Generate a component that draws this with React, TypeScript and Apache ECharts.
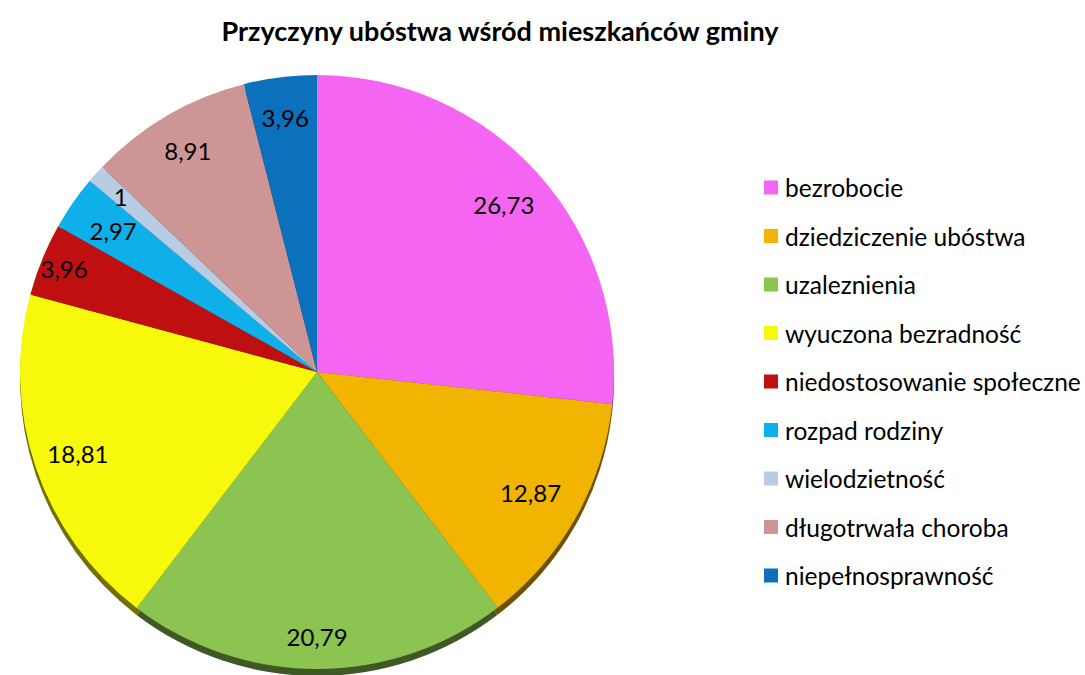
import React, { useEffect, useRef } from "react";
import * as echarts from "echarts";

const categories = [
  "bezrobocie",
  "dziedziczenie ubóstwa",
  "uzaleznienia",
  "wyuczona bezradność",
  "niedostosowanie społeczne",
  "rozpad rodziny",
  "wielodzietność",
  "długotrwała choroba",
  "niepełnosprawność",
];
const values = [26.73, 12.87, 20.79, 18.81, 3.96, 2.97, 1, 8.91, 3.96];
const colors = [
  "#F466F1",
  "#F1B400",
  "#8CC452",
  "#F8F80C",
  "#C00F10",
  "#0FAFEA",
  "#B8CCE4",
  "#CD9593",
  "#0C71BD",
];
// radial placement of each label (fraction of radius)
const labelRadius = [0.845, 0.825, 0.89, 0.85, 0.92, 0.835, 0.887, 0.862, 0.862];

const CX = 317;
const CY = 372;
const R = 297;
const FONT = "Lato, 'Open Sans', sans-serif";

function darken(hex: string, f: number) {
  const n = parseInt(hex.slice(1), 16);
  const r = Math.round(((n >> 16) & 255) * f);
  const g = Math.round(((n >> 8) & 255) * f);
  const b = Math.round((n & 255) * f);
  return `rgb(${r},${g},${b})`;
}

export default function App() {
  const ref = useRef<HTMLDivElement>(null);
  useEffect(() => {
    document.body.style.margin = "0";
    if (!ref.current) return;
    const chart = echarts.init(ref.current, null, { renderer: "svg" });
    const total = values.reduce((a, b) => a + b, 0);
    const mids: number[] = [];
    let acc = 0;
    values.forEach((v) => {
      mids.push(((acc + v / 2) / total) * Math.PI * 2);
      acc += v;
    });
    const data = categories.map((name, i) => ({
      name,
      value: values[i],
      itemStyle: { color: colors[i] },
    }));
    const shadowData = categories.map((name, i) => ({
      name,
      value: values[i],
      itemStyle: { color: darken(colors[i], 0.45) },
    }));
    chart.setOption({
      animation: false,
      title: {
        text: "Przyczyny ubóstwa wśród mieszkańców gminy",
        left: 495,
        textAlign: "center",
        top: 12,
        textStyle: {
          fontFamily: FONT,
          fontSize: 27,
          fontWeight: "bold",
          color: "#000",
        },
      },
      legend: {
        orient: "vertical",
        left: 759,
        top: 170,
        icon: "rect",
        itemWidth: 14,
        itemHeight: 14,
        itemGap: 23.5,
        selectedMode: false,
        data: categories,
        textStyle: {
          fontFamily: FONT,
          fontSize: 24.5,
          lineHeight: 20,
          color: "#000",
          padding: [0, 0, 0, 2],
        },
      },
      series: [
        {
          type: "pie",
          center: [CX, CY],
          radius: R,
          startAngle: 90,
          clockwise: true,
          avoidLabelOverlap: false,
          label: {
            show: true,
            position: "inside",
            color: "#000",
            fontFamily: FONT,
            fontSize: 24,
            formatter: (p: any) => String(p.value).replace(".", ","),
          },
          labelLayout: (p: any) => {
            const a = mids[p.dataIndex];
            const k = labelRadius[p.dataIndex];
            return {
              x: CX + Math.sin(a) * R * k,
              y: CY - Math.cos(a) * R * k,
              align: "center",
              verticalAlign: "middle",
            };
          },
          labelLine: { show: false },
          data,
          z: 2,
        },
        {
          type: "pie",
          silent: true,
          center: [CX, CY + 7],
          radius: R,
          startAngle: 90,
          clockwise: true,
          label: { show: false },
          labelLine: { show: false },
          data: shadowData,
          z: 1,
        },
      ],
    });
    return () => chart.dispose();
  }, []);
  return <div ref={ref} style={{ width: 1085, height: 675 }} />;
}
